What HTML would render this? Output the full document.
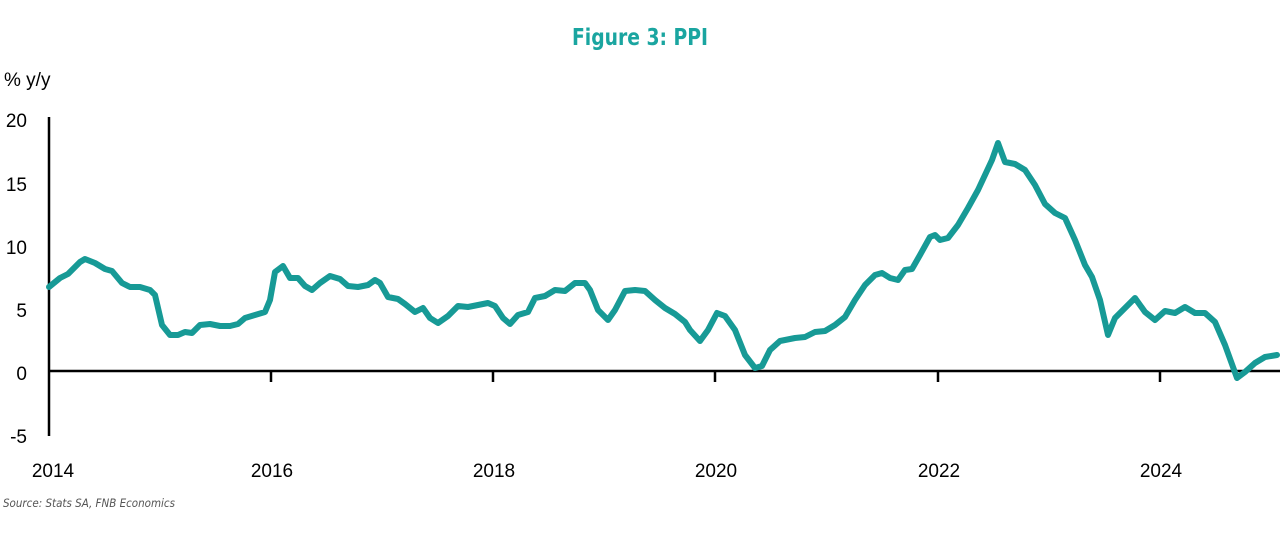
<!DOCTYPE html>
<html><head><meta charset="utf-8"><style>
html,body{margin:0;padding:0;background:#fff;}
body{width:1280px;height:544px;overflow:hidden;}
svg text{font-family:"Liberation Sans",sans-serif;}
</style></head><body>
<svg width="1280" height="544" viewBox="0 0 1280 544">
<text x="640" y="45" text-anchor="middle" font-size="23" font-weight="bold" fill="#1aa5a0" style="font-family:'DejaVu Sans Condensed','Liberation Sans Narrow','Liberation Sans',sans-serif" textLength="136" lengthAdjust="spacingAndGlyphs">Figure 3: PPI</text>
<text x="4" y="86" font-size="19" fill="#000">% y/y</text>
<g font-size="19" fill="#000" text-anchor="end">
<text x="27" y="127">20</text>
<text x="27" y="191">15</text>
<text x="27" y="254">10</text>
<text x="27" y="317">5</text>
<text x="27" y="380">0</text>
<text x="27" y="443">-5</text>
</g>
<g stroke="#000" stroke-width="2.5">
<line x1="49" y1="117" x2="49" y2="436"/>
<line x1="49" y1="371" x2="1280" y2="371"/>
<line x1="271" y1="371" x2="271" y2="382"/>
<line x1="493" y1="371" x2="493" y2="382"/>
<line x1="715" y1="371" x2="715" y2="382"/>
<line x1="938" y1="371" x2="938" y2="382"/>
<line x1="1160" y1="371" x2="1160" y2="382"/>
</g>
<g font-size="19" fill="#000" text-anchor="middle">
<text x="53" y="477">2014</text>
<text x="272" y="477">2016</text>
<text x="494" y="477">2018</text>
<text x="716" y="477">2020</text>
<text x="939" y="477">2022</text>
<text x="1161" y="477">2024</text>
</g>
<text x="3" y="507" font-size="11.5" font-style="italic" fill="#555" style="font-family:'DejaVu Sans Condensed','Liberation Sans',sans-serif" textLength="172" lengthAdjust="spacingAndGlyphs">Source: Stats SA, FNB Economics</text>
<polyline fill="none" stroke="#179a96" stroke-width="6" stroke-linejoin="round" stroke-linecap="round" points="49,287 60,278 68,274 80,262 85,259 95,263 105,269 112,271 122,283 130,287 140,287 150,290 155,295 162,325 170,335 178,335 185,332 192,333 200,325 210,324 220,326 230,326 238,324 245,318 255,315 265,312 270,300 275,272 283,266 290,278 298,278 305,286 312,290 320,283 330,276 340,279 348,286 358,287 368,285 375,280 380,283 388,297 398,299 405,304 415,312 423,308 430,318 438,323 448,316 458,306 468,307 478,305 488,303 495,306 503,318 510,324 518,315 528,312 535,298 545,296 555,290 565,291 575,283 585,283 590,290 598,310 608,320 615,310 625,291 635,290 645,291 655,300 665,308 675,314 685,322 690,330 700,341 708,330 717,313 725,316 735,330 745,355 755,368 762,366 770,350 780,341 795,338 805,337 815,332 825,331 835,325 845,317 855,300 865,285 875,275 882,273 890,278 898,280 905,270 912,269 920,255 930,237 935,235 940,240 948,238 958,225 968,208 978,190 985,175 992,160 998,143 1005,162 1015,164 1025,170 1035,185 1045,204 1055,213 1065,218 1075,240 1085,265 1092,277 1100,300 1108,335 1115,318 1125,308 1135,298 1145,312 1155,320 1165,311 1175,313 1185,307 1195,313 1205,313 1215,322 1225,345 1237,378 1245,372 1255,363 1265,357 1277,355"/>
</svg>
</body></html>
